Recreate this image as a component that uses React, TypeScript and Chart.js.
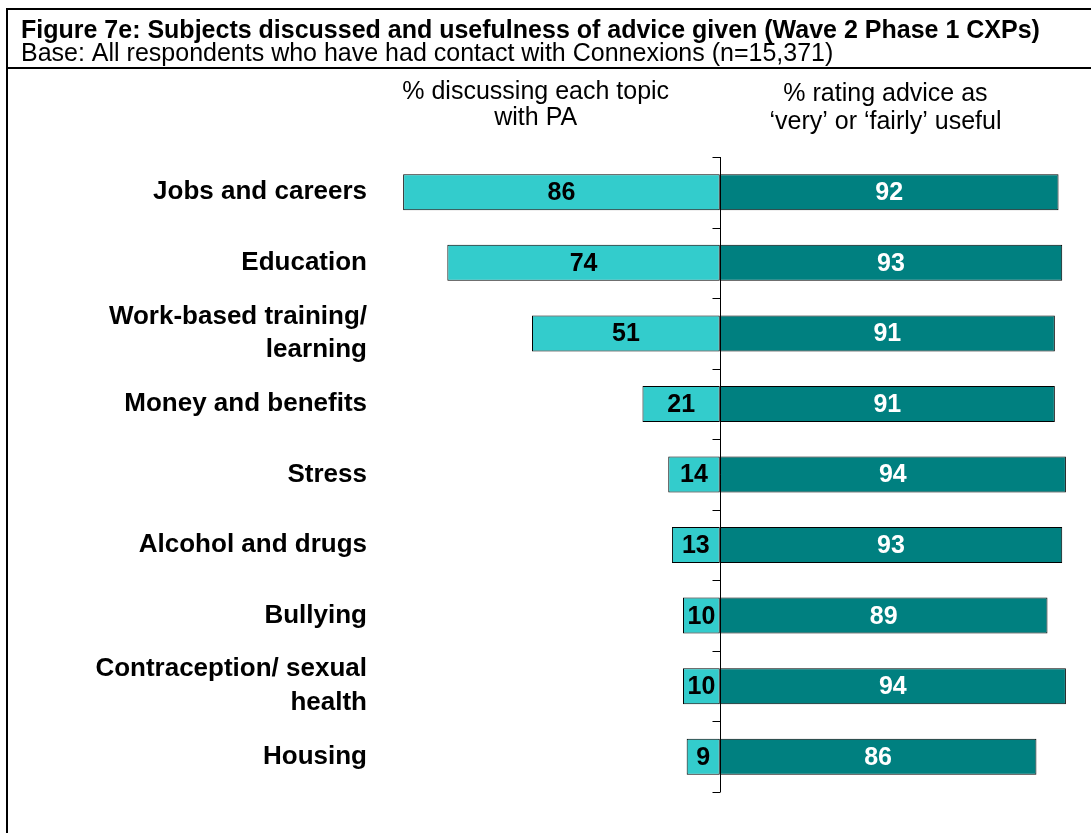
import React, { useEffect, useRef } from "react";
import { Chart, registerables } from "chart.js";

Chart.register(...registerables);

// Topics (multi-line where the label wraps)
const topics: (string | string[])[] = [
  "Jobs and careers",
  "Education",
  ["Work-based training/", "learning"],
  "Money and benefits",
  "Stress",
  "Alcohol and drugs",
  "Bullying",
  ["Contraception/ sexual", "health"],
  "Housing",
];

// % discussing each topic with PA
const discussedPct = [86, 74, 51, 21, 14, 13, 10, 10, 9];

// % rating advice as 'very' or 'fairly' useful
const usefulPct = [92, 93, 91, 91, 94, 93, 89, 94, 86];

const titleText =
  "Figure 7e: Subjects discussed and usefulness of advice given (Wave 2 Phase 1 CXPs)";
const baseText =
  "Base: All respondents who have had contact with Connexions (n=15,371)";
const leftHeader = ["% discussing each topic", "with PA"];
const rightHeader = ["% rating advice as", "\u2018very\u2019 or \u2018fairly\u2019 useful"];

const FONT = "'Liberation Sans', Arial, sans-serif";
const LIGHT = "#33CCCC";
const DARK = "#008080";

const W = 1091;
const H = 833;

const framePlugin = {
  id: "frameAndHeaders",
  beforeDraw(chart: any) {
    const { ctx } = chart;
    ctx.save();
    ctx.fillStyle = "#ffffff";
    ctx.fillRect(0, 0, W, H);
    // figure frame
    ctx.fillStyle = "#000000";
    ctx.fillRect(6, 8, W - 6, 2);
    ctx.fillRect(6, 8, 2, H - 8);
    ctx.fillRect(6, 67, W - 6, 2);
    // title and base
    ctx.textAlign = "left";
    ctx.textBaseline = "alphabetic";
    ctx.font = `bold 25px ${FONT}`;
    ctx.fillText(titleText, 21, 38);
    ctx.font = `25px ${FONT}`;
    ctx.fillText(baseText, 21, 61);
    // column headers
    const xs = chart.scales.x;
    ctx.textAlign = "center";
    ctx.font = `25px ${FONT}`;
    const lx = xs.getPixelForValue(-50);
    const rx = xs.getPixelForValue(45);
    leftHeader.forEach((t, i) => ctx.fillText(t, lx, 99 + i * 26));
    rightHeader.forEach((t, i) => ctx.fillText(t, rx, 101 + i * 28));
    ctx.restore();
  },
};

const axisPlugin = {
  id: "centreAxisAndValues",
  afterDatasetsDraw(chart: any) {
    const { ctx, chartArea } = chart;
    const xs = chart.scales.x;
    const x0 = Math.round(xs.getPixelForValue(0)) + 0.5;
    ctx.save();
    // value labels inside bars
    ctx.textAlign = "center";
    ctx.textBaseline = "middle";
    ctx.font = `bold 25px ${FONT}`;
    chart.data.datasets.forEach((ds: any, di: number) => {
      const meta = chart.getDatasetMeta(di);
      meta.data.forEach((bar: any, i: number) => {
        const v = Math.abs(ds.data[i]);
        ctx.fillStyle = di === 0 ? "#000000" : "#ffffff";
        ctx.fillText(String(v), (bar.x + bar.base) / 2, bar.y + 1);
      });
    });
    // central category axis with tick marks at category boundaries
    ctx.strokeStyle = "#000000";
    ctx.lineWidth = 1;
    ctx.beginPath();
    ctx.moveTo(x0, chartArea.top);
    ctx.lineTo(x0, chartArea.bottom);
    const n = topics.length;
    const step = (chartArea.bottom - chartArea.top) / n;
    for (let i = 0; i <= n; i++) {
      const y = Math.round(chartArea.top + i * step) + 0.5;
      ctx.moveTo(x0 - 8, y);
      ctx.lineTo(x0, y);
    }
    ctx.stroke();
    ctx.restore();
  },
};

export default function App() {
  const ref = useRef<HTMLCanvasElement | null>(null);

  useEffect(() => {
    if (!ref.current) return;
    const chart = new Chart(ref.current, {
      type: "bar",
      data: {
        labels: topics,
        datasets: [
          {
            label: "% discussing each topic with PA",
            data: discussedPct.map((v) => -v),
            backgroundColor: LIGHT,
            borderColor: "#000000",
            borderWidth: 1,
            borderSkipped: false,
            barPercentage: 0.51,
            categoryPercentage: 1,
          },
          {
            label: "% rating advice as 'very' or 'fairly' useful",
            data: usefulPct,
            backgroundColor: DARK,
            borderColor: "#000000",
            borderWidth: 1,
            borderSkipped: false,
            barPercentage: 0.51,
            categoryPercentage: 1,
          },
        ],
      },
      options: {
        indexAxis: "y",
        animation: false,
        responsive: false,
        maintainAspectRatio: false,
        events: [],
        layout: { padding: { top: 157, bottom: 41, right: 3, left: 0 } },
        plugins: {
          legend: { display: false },
          tooltip: { enabled: false },
          title: { display: false },
        },
        scales: {
          x: {
            stacked: true,
            min: -95,
            max: 100,
            display: false,
          },
          y: {
            stacked: true,
            grid: { display: false, drawTicks: false, tickLength: 0 },
            border: { display: false },
            afterFit: (scale: any) => {
              scale.width = 370;
            },
            ticks: {
              autoSkip: false,
              color: "#000000",
              padding: 3,
              font: { family: FONT, size: 26, weight: "bold", lineHeight: 1.3 },
            },
          },
        },
      },
      plugins: [framePlugin, axisPlugin],
    });
    return () => chart.destroy();
  }, []);

  return (
    <div style={{ position: "absolute", left: 0, top: 0, width: W, height: H }}>
      <canvas ref={ref} width={W} height={H} style={{ display: "block", width: W, height: H }} />
    </div>
  );
}
